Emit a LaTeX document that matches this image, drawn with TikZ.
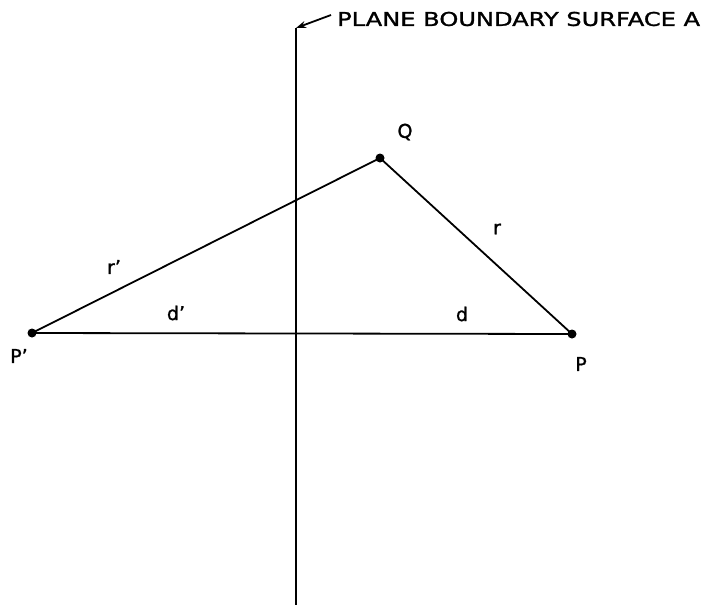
\documentclass[tikz,border=0pt]{standalone}
\usepackage{fontspec}
\setmainfont{DejaVu Sans}[FakeBold=1.2]
\usetikzlibrary{arrows.meta}
\begin{document}
\begin{tikzpicture}[x=1pt,y=-1pt,
  edge/.style={line width=1.8pt},
  dot/.style={circle,fill=black,inner sep=0pt,minimum size=9pt},
  lbl/.style={font=\fontsize{19}{21}\selectfont,inner sep=0pt}]
\useasboundingbox (0,0) rectangle (713,611);
\node[dot] (Pp) at (32,333) {};
\node[dot] (P) at (572,334) {};
\node[dot] (Q) at (380,158) {};
\coordinate (top) at (296,28);
\coordinate (bot) at (296,605);
\coordinate (tail) at (331,15);
\draw[edge] (top) -- (bot);
\draw[edge,-{Stealth[length=10pt,width=7pt]}] (tail) -- (top);
\draw[edge] (Pp.center) -- (Q.center) -- (P.center);
\draw[edge] (Pp.center) -- (P.center);
\node[lbl,anchor=west] (title) at (337,19) {\scalebox{1.27}[1]{PLANE BOUNDARY SURFACE A}};
\node[lbl] (lQ) at (405,132) {Q};
\node[lbl] (lr) at (497,229) {r};
\node[lbl] (lrp) at (114,267) {r’};
\node[lbl] (ldp) at (176,313) {d’};
\node[lbl] (ld) at (462,314) {d};
\node[lbl] (lPp) at (19,356) {P’};
\node[lbl] (lP) at (581,364) {P};
\end{tikzpicture}
\end{document}
